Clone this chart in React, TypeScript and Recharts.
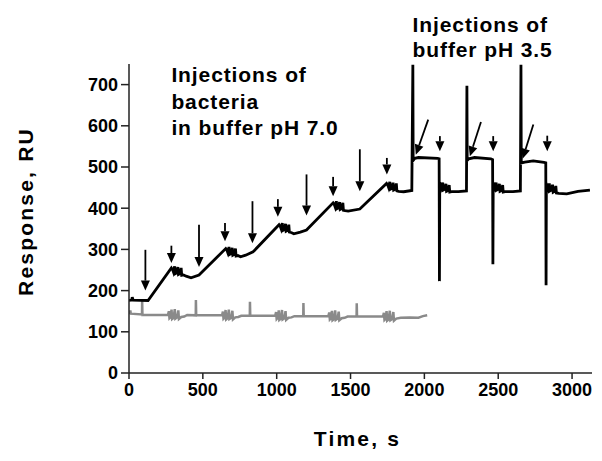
import { LineChart, Line, XAxis, YAxis, ReferenceLine, ReferenceDot, Label } from 'recharts';

// time (s) / response (RU) pairs
const bacteriaTrace: [number, number][] = [
  [0, 176], [18, 177], [22, 184], [28, 177], [129, 176],
  [287, 255], [295, 251], [301, 245], [309, 259], [313, 241], [323, 243], [331, 257], [335, 239], [345, 241], [353, 255], [357, 237], [369, 238], [387, 235], [420, 231],
  [474, 238],
  [655, 302], [663, 298], [669, 292], [677, 306], [681, 288], [691, 290], [699, 304], [703, 286], [713, 288], [721, 302], [725, 284], [737, 285], [755, 282], [790, 286], [840, 294],
  [1016, 360], [1024, 356], [1030, 350], [1038, 364], [1042, 346], [1052, 348], [1060, 362], [1064, 344], [1074, 346], [1082, 360], [1086, 342], [1098, 341], [1116, 338], [1160, 342], [1202, 347],
  [1382, 413], [1390, 409], [1396, 403], [1404, 417], [1408, 399], [1418, 401], [1426, 415], [1430, 397], [1440, 399], [1448, 413], [1452, 395], [1464, 394], [1484, 393], [1563, 398],
  [1744, 460], [1752, 456], [1758, 450], [1766, 464], [1770, 446], [1780, 448], [1788, 462], [1792, 444], [1802, 446], [1810, 460], [1814, 442], [1826, 441], [1860, 440], [1915, 443],
  [1922, 748], [1924, 516], [1935, 521], [1960, 523], [2090, 521], [2100, 520], [2102, 223],
  [2104, 450], [2110, 455], [2116, 449], [2124, 462], [2128, 444], [2138, 446], [2146, 459], [2150, 441], [2160, 443], [2168, 456], [2172, 439], [2185, 440], [2230, 440], [2285, 442],
  [2288, 697], [2290, 516], [2300, 520], [2340, 523], [2450, 520], [2462, 518], [2464, 264],
  [2466, 450], [2472, 455], [2478, 449], [2486, 462], [2490, 444], [2500, 446], [2508, 459], [2512, 441], [2522, 443], [2530, 456], [2534, 439], [2547, 440], [2600, 440], [2650, 442],
  [2654, 748], [2656, 510], [2680, 512], [2737, 515], [2810, 511], [2822, 510], [2824, 213],
  [2826, 448], [2832, 453], [2838, 447], [2846, 460], [2850, 442], [2860, 444], [2868, 457], [2872, 439], [2882, 441], [2890, 454], [2894, 437], [2910, 436], [2964, 435], [3040, 441], [3121, 444],
];

const referenceTrace: [number, number][] = [
  [0, 144], [6, 146], [9, 152], [12, 144], [88, 142], [89, 176], [91, 141],
  [264, 141], [270, 150], [274, 133], [282, 136], [288, 154], [292, 131], [302, 134], [310, 155], [314, 132], [326, 135], [334, 152], [338, 131], [354, 136], [374, 137], [394, 141],
  [452, 140], [453, 177], [455, 140],
  [630, 140], [636, 149], [640, 132], [648, 135], [654, 153], [658, 130], [668, 133], [676, 154], [680, 131], [692, 134], [700, 151], [704, 130], [720, 135], [740, 136], [760, 139],
  [818, 139], [819, 173], [821, 139],
  [990, 139], [996, 148], [1000, 131], [1008, 134], [1014, 152], [1018, 129], [1028, 132], [1036, 153], [1040, 130], [1052, 133], [1060, 150], [1064, 129], [1080, 134], [1100, 135], [1120, 138],
  [1180, 138], [1181, 170], [1183, 138],
  [1350, 138], [1356, 147], [1360, 130], [1368, 133], [1374, 151], [1378, 128], [1388, 131], [1396, 152], [1400, 129], [1412, 132], [1420, 149], [1424, 128], [1440, 133], [1460, 134], [1480, 137],
  [1541, 137], [1542, 169], [1544, 137],
  [1720, 137], [1726, 146], [1730, 129], [1738, 132], [1744, 150], [1748, 127], [1758, 130], [1766, 151], [1770, 128], [1782, 131], [1790, 148], [1794, 127], [1810, 132], [1840, 134], [1900, 135], [1960, 134], [1990, 138], [2019, 140],
];

// injection arrows: [time, top RU, tip RU]
const downArrows: [number, number, number][] = [
  [111, 299, 200], [287, 309, 267], [474, 360, 257], [650, 364, 320], [836, 417, 315],
  [1008, 422, 379], [1202, 482, 382], [1382, 476, 429], [1563, 543, 441], [1746, 522, 482],
  [2105, 575, 538], [2466, 575, 538], [2832, 576, 538],
];
// slanted arrows: [from time, from RU, tip time, tip RU]
const slantArrows: [number, number, number, number][] = [
  [2026, 615, 1942, 530], [2383, 609, 2308, 526], [2738, 603, 2665, 520],
];

const xTicks = [0, 500, 1000, 1500, 2000, 2500, 3000];
const yTicks = [0, 100, 200, 300, 400, 500, 600, 700];

// annotation blocks: anchor time, baseline RU of first line, lines
const notes = [
  { t: 287, v: 706, gap: 26.5, lines: ['Injections of', 'bacteria', 'in buffer pH 7.0'] },
  { t: 1920, v: 827, gap: 25, lines: ['Injections of', 'buffer pH 3.5'] },
];

const FONT = '"Liberation Sans", Arial, sans-serif';

const toRows = (pts: [number, number][]) => pts.map(([t, v]) => ({ t, v }));

const ArrowShape = (props: any) => {
  const { x1, y1, x2, y2 } = props;
  const dx = x2 - x1;
  const dy = y2 - y1;
  const len = Math.hypot(dx, dy) || 1;
  const ux = dx / len;
  const uy = dy / len;
  const hl = 10;
  const hw = 4.5;
  const bx = x2 - ux * hl;
  const by = y2 - uy * hl;
  return (
    <g>
      <line x1={x1} y1={y1} x2={bx} y2={by} stroke="#000" strokeWidth={1.8} />
      <polygon
        points={`${x2},${y2} ${bx - uy * hw},${by + ux * hw} ${bx + uy * hw},${by - ux * hw}`}
        fill="#000"
      />
    </g>
  );
};

const noteContent = (lines: string[], gap: number) => (p: any) => {
  const { x, y } = p.viewBox;
  return (
    <text x={x} y={y} fontFamily={FONT} fontWeight="bold" fontSize={21} letterSpacing={0.9} fill="#000">
      {lines.map((l, i) => (
        <tspan key={i} x={x} y={y + i * gap}>{l}</tspan>
      ))}
    </text>
  );
};

export default function App() {
  const tickStyle = { fill: '#000', fontSize: 18, fontWeight: 'bold', fontFamily: FONT };
  return (
    <div style={{ position: 'absolute', left: 0, top: 0, background: '#fff' }}>
      <LineChart width={602} height={461} margin={{ top: 64, right: 10, bottom: 0, left: 0 }}>
        <XAxis
          type="number"
          dataKey="t"
          domain={[0, 3135]}
          ticks={xTicks}
          allowDataOverflow
          height={88}
          tickSize={6}
          tickMargin={4}
          stroke="#222"
          strokeWidth={1.5}
          tick={tickStyle}
        >
          <Label
            content={(p: any) => {
              const vb = p.viewBox;
              return (
                <text x={vb.x + vb.width / 2 - 3} y={vb.y + 73} textAnchor="middle" fontFamily={FONT}
                  fontWeight="bold" fontSize={21} letterSpacing={2.2} fill="#000">
                  Time, s
                </text>
              );
            }}
          />
        </XAxis>
        <YAxis
          type="number"
          domain={[0, 750]}
          ticks={yTicks}
          allowDataOverflow
          width={129}
          tickSize={8}
          tickMargin={3}
          stroke="#222"
          strokeWidth={1.5}
          tick={tickStyle}
        >
          <Label
            content={(p: any) => {
              const vb = p.viewBox;
              const cx = vb.x + 33;
              const cy = vb.y + vb.height / 2 - 7;
              return (
                <text x={cx} y={cy} textAnchor="middle" transform={`rotate(-90 ${cx} ${cy})`}
                  fontFamily={FONT} fontWeight="bold" fontSize={21} letterSpacing={2.2} fill="#000">
                  Response, RU
                </text>
              );
            }}
          />
        </YAxis>
        <Line
          data={toRows(referenceTrace)}
          dataKey="v"
          type="linear"
          stroke="#8a8a8a"
          strokeWidth={2.5}
          dot={false}
          isAnimationActive={false}
        />
        <Line
          data={toRows(bacteriaTrace)}
          dataKey="v"
          type="linear"
          stroke="#000"
          strokeWidth={2.8}
          dot={false}
          isAnimationActive={false}
        />
        {downArrows.map(([t, top, tip], i) => (
          <ReferenceLine
            key={`d${i}`}
            segment={[{ x: t, y: top }, { x: t, y: tip }]}
            ifOverflow="visible"
            shape={ArrowShape}
          />
        ))}
        {slantArrows.map(([t1, v1, t2, v2], i) => (
          <ReferenceLine
            key={`s${i}`}
            segment={[{ x: t1, y: v1 }, { x: t2, y: v2 }]}
            ifOverflow="visible"
            shape={ArrowShape}
          />
        ))}
        {notes.map((n, i) => (
          <ReferenceDot
            key={`n${i}`}
            x={n.t}
            y={n.v}
            r={0}
            fill="none"
            stroke="none"
            ifOverflow="visible"
            label={{ content: noteContent(n.lines, n.gap) }}
          />
        ))}
      </LineChart>
    </div>
  );
}
